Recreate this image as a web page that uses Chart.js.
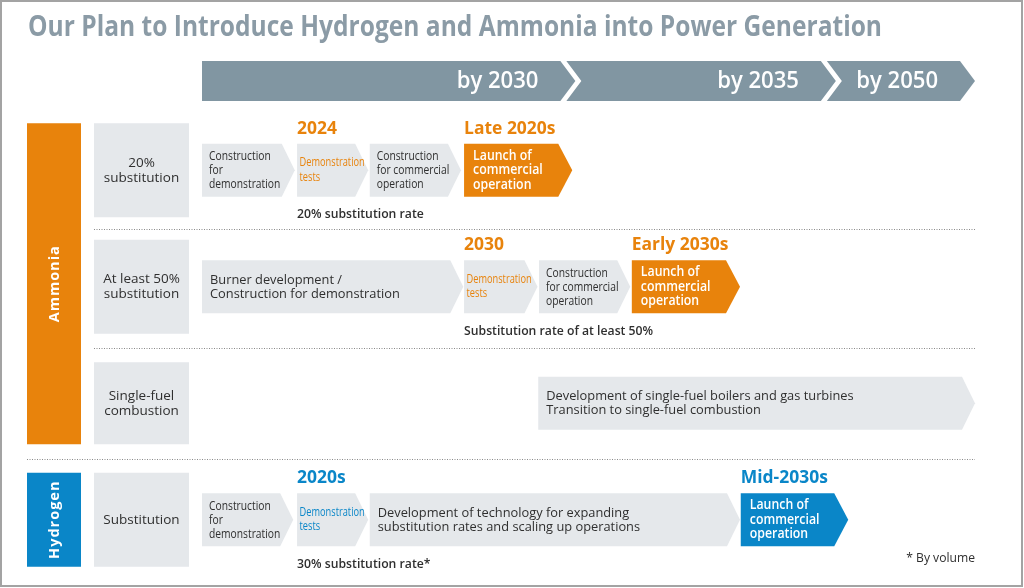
<!DOCTYPE html>
<html>
<head>
<meta charset="utf-8">
<title>Our Plan to Introduce Hydrogen and Ammonia into Power Generation</title>
<script src="https://cdn.jsdelivr.net/npm/chart.js@4.4.1/dist/chart.umd.min.js"></script>
<style>
  html, body { margin: 0; padding: 0; background: #fff; }
  canvas { display: block; }
</style>
</head>
<body>
<canvas id="roadmapChart" width="1024" height="588"></canvas>
<script>
const chartTitle = 'Our Plan to Introduce Hydrogen and Ammonia into Power Generation';

// rows of the roadmap
const lanes = ['20%\nsubstitution', 'At least 50%\nsubstitution', 'Single-fuel\ncombustion', 'Substitution'];
const fuels = ['Ammonia', 'Hydrogen'];
const fuelFirstLane = [0, 3];
const fuelLastLane = [2, 3];

// timeline across the top, 0-100 = whole span
const periods = ['by 2030', 'by 2035', 'by 2050'];
const periodEnds = [48.3, 82, 100];

// stages of each lane, [start, end] on the timeline
const step1 = [[0, 12], [0, 33.8], [43.5, 100], [0, 11.8]];
const step2 = [[12.3, 21.5], [33.9, 43.4], null, [12.3, 21.5]];
const step3 = [[21.7, 33.5], [43.6, 55.4], null, [21.7, 69.6]];
const step4 = [[33.9, 47.9], [55.6, 69.6], null, [69.7, 83.6]];

const step1Text = [
  'Construction\nfor\ndemonstration',
  'Burner development /\nConstruction for demonstration',
  'Development of single-fuel boilers and gas turbines\nTransition to single-fuel combustion',
  'Construction\nfor\ndemonstration'
];
const step2Text = ['Demonstration\ntests', 'Demonstration\ntests', '', 'Demonstration\ntests'];
const step3Text = [
  'Construction\nfor commercial\noperation',
  'Construction\nfor commercial\noperation',
  '',
  'Development of technology for expanding\nsubstitution rates and scaling up operations'
];
const step4Text = ['Launch of\ncommercial\noperation', 'Launch of\ncommercial\noperation', '', 'Launch of\ncommercial\noperation'];

const step2Dates = ['2024', '2030', '', '2020s'];
const step4Dates = ['Late 2020s', 'Early 2030s', '', 'Mid-2030s'];
const rateNotes = ['20% substitution rate', 'Substitution rate of at least 50%', '', '30% substitution rate*'];
const footNote = '* By volume';

const steps = [step1, step2, step3, step4];
const stepTexts = [step1Text, step2Text, step3Text, step4Text];

const FONT = '"Open Sans", "Noto Sans", sans-serif';
const DARK = '#2f2f2f';
const BOX = '#e5e8eb';
const fuelColors = ['#e8830c', '#0a86c8'];
const laneHalf = [47, 47, 41, 47]; // half height of the lane label boxes

function fuelOf(lane) {
  return fuels.findIndex((f, i) => lane >= fuelFirstLane[i] && lane <= fuelLastLane[i]);
}

function text(ctx, str, x, y, o) {
  ctx.save();
  ctx.font = (o.weight || 'normal') + ' ' + o.size + 'px ' + FONT;
  ctx.fillStyle = o.color || DARK;
  ctx.textAlign = o.align || 'left';
  ctx.textBaseline = 'middle';
  ctx.translate(x, y);
  ctx.scale(o.sx || 1, 1);
  ctx.fillText(str, 0, 0);
  ctx.restore();
}

function lines(ctx, str, x, y, o) {
  const parts = str.split('\n');
  const lh = o.lh || 14;
  parts.forEach((p, k) => text(ctx, p, x, y + (k - (parts.length - 1) / 2) * lh, o));
}

function chevron(ctx, x0, x1, top, bottom, d, color) {
  ctx.fillStyle = color;
  ctx.beginPath();
  ctx.moveTo(x0, top);
  ctx.lineTo(x1 - d, top);
  ctx.lineTo(x1, (top + bottom) / 2);
  ctx.lineTo(x1 - d, bottom);
  ctx.lineTo(x0, bottom);
  ctx.closePath();
  ctx.fill();
}

function stepStyle(step, width, accent) {
  if (step === 3) return { size: 14, weight: '600', sx: 0.88, color: '#fff', pad: 9, lh: 14.5 };
  if (step === 1) return { size: 12, sx: 0.77, color: accent, pad: 2.5, lh: 14.5 };
  if (width < 120) return { size: 13.2, sx: 0.78, color: DARK, pad: 7, lh: 14 };
  return { size: 13.5, sx: 0.95, color: DARK, pad: 8, lh: 14 };
}

const roadmapPlugin = {
  id: 'roadmap',
  beforeDraw(chart) {
    const ctx = chart.ctx;
    ctx.save();
    ctx.fillStyle = '#fff';
    ctx.fillRect(0, 0, chart.width, chart.height);
    ctx.strokeStyle = '#a3a3a3';
    ctx.lineWidth = 2;
    ctx.strokeRect(1, 1, chart.width - 3, chart.height - 3);
    // title, squeezed to the width of the original condensed face
    ctx.font = 'bold 28px ' + FONT;
    const w = ctx.measureText(chartTitle).width;
    text(ctx, chartTitle, 28, 28, { size: 28, weight: 'bold', color: '#8b9ba6', sx: 854 / w });
    ctx.restore();
  },
  beforeDatasetsDraw(chart) {
    const ctx = chart.ctx;
    const xs = chart.scales.x;
    const ys = chart.scales.y;
    ctx.save();

    // timeline header
    const top = 61, bottom = 101, d = 15, gap = 6;
    periods.forEach((p, i) => {
      const tip = xs.getPixelForValue(periodEnds[i]);
      const prev = xs.getPixelForValue(i === 0 ? 0 : periodEnds[i - 1]);
      ctx.fillStyle = '#8196a2';
      ctx.beginPath();
      if (i === 0) {
        ctx.moveTo(prev, top);
      } else {
        ctx.moveTo(prev - d + gap, top);
      }
      ctx.lineTo(tip - d, top);
      ctx.lineTo(tip, (top + bottom) / 2);
      ctx.lineTo(tip - d, bottom);
      if (i === 0) {
        ctx.lineTo(prev, bottom);
      } else {
        ctx.lineTo(prev - d + gap, bottom);
        ctx.lineTo(prev + gap, (top + bottom) / 2);
      }
      ctx.closePath();
      ctx.fill();
      text(ctx, p, tip - d - 22, (top + bottom) / 2 + 1, { size: 22.5, weight: '600', color: '#fff', align: 'right', sx: 0.98 });
    });

    const center = lanes.map((l, i) => ys.getPixelForValue(i));

    // fuel bars on the far left
    fuels.forEach((f, i) => {
      const t = center[fuelFirstLane[i]] - laneHalf[fuelFirstLane[i]];
      const b = center[fuelLastLane[i]] + laneHalf[fuelLastLane[i]];
      ctx.fillStyle = fuelColors[i];
      ctx.fillRect(27, t, 54, b - t);
      ctx.save();
      ctx.translate(55, (t + b) / 2);
      ctx.rotate(-Math.PI / 2);
      ctx.letterSpacing = '1px';
      text(ctx, f, 0, 0, { size: 14.5, weight: 'bold', color: '#fff', align: 'center' });
      ctx.restore();
    });

    // lane label boxes
    lanes.forEach((l, i) => {
      ctx.fillStyle = BOX;
      ctx.fillRect(94, center[i] - laneHalf[i], 95, laneHalf[i] * 2);
      lines(ctx, l, 141.5, center[i], { size: 13.5, align: 'center', lh: 15 });
    });

    // dotted separators between lanes
    ctx.strokeStyle = '#8a8a8a';
    ctx.lineWidth = 1;
    ctx.setLineDash([1, 1.5]);
    for (let i = 0; i < lanes.length - 1; i++) {
      const y = Math.round((center[i] + laneHalf[i] + center[i + 1] - laneHalf[i + 1]) / 2) + 0.5;
      const x0 = fuelOf(i) !== fuelOf(i + 1) ? 27 : 94;
      ctx.beginPath();
      ctx.moveTo(x0, y);
      ctx.lineTo(xs.getPixelForValue(100), y);
      ctx.stroke();
    }
    ctx.restore();
  },
  afterDatasetsDraw(chart) {
    const ctx = chart.ctx;
    ctx.save();
    steps.forEach((step, s) => {
      const meta = chart.getDatasetMeta(s);
      meta.data.forEach((bar, i) => {
        if (!step[i]) return;
        const { x, base, y, height } = bar.getProps(['x', 'base', 'y', 'height'], true);
        const top = y - height / 2, bottom = y + height / 2;
        const accent = fuelColors[fuelOf(i)];
        chevron(ctx, base, x, top, bottom, s === 3 ? 14 : 13, s === 3 ? accent : BOX);
        const st = stepStyle(s, x - base, accent);
        lines(ctx, stepTexts[s][i], base + st.pad, y, st);
        if (s === 1 && step2Dates[i]) text(ctx, step2Dates[i], base, top - 15, { size: 18, weight: 'bold', color: accent, sx: 0.97 });
        if (s === 3 && step4Dates[i]) text(ctx, step4Dates[i], base, top - 15, { size: 18, weight: 'bold', color: accent, sx: 0.97 });
        if (s === 1 && rateNotes[i]) text(ctx, rateNotes[i], base, bottom + 18, { size: 13, weight: '600', sx: 0.94 });
      });
    });
    const xs = chart.scales.x;
    text(ctx, footNote, xs.getPixelForValue(100), 558, { size: 12.5, align: 'right', sx: 0.97 });
    ctx.restore();
  }
};

const ctx = document.getElementById('roadmapChart').getContext('2d');

const config = {
  type: 'bar',
  data: {
    labels: lanes,
    datasets: steps.map((step, s) => ({
      label: 'Step ' + (s + 1),
      data: step,
      grouped: false,
      barThickness: 53,
      backgroundColor: 'rgba(0,0,0,0)',
      borderWidth: 0
    }))
  },
  options: {
    indexAxis: 'y',
    responsive: false,
    animation: false,
    layout: { padding: { left: 202, right: 49, top: 112, bottom: 10 } },
    scales: {
      x: { type: 'linear', min: 0, max: 100, display: false },
      y: { display: false }
    },
    plugins: {
      legend: { display: false },
      tooltip: { enabled: false }
    }
  },
  plugins: [roadmapPlugin]
};

const roadmapChart = new Chart(ctx, config);
</script>
</body>
</html>
